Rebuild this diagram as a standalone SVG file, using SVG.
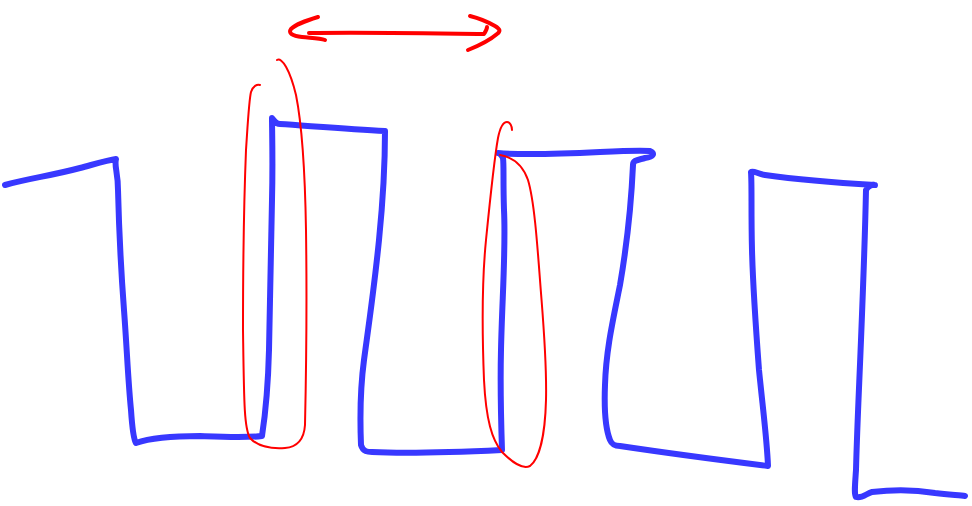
<svg xmlns="http://www.w3.org/2000/svg" width="972" height="506" viewBox="0 0 972 506">
<style>
.blue{fill:none;stroke:#3838ff;stroke-width:6;stroke-linecap:round;stroke-linejoin:round}
.red{fill:none;stroke:#ff0000;stroke-width:2;stroke-linecap:round;stroke-linejoin:round}
.arrow{fill:none;stroke:#ff0000;stroke-width:4;stroke-linecap:round;stroke-linejoin:round}
</style>
<rect width="972" height="506" fill="#ffffff"/>
<g id="signal">
<path class="blue" d="M5,185 C30,178 50,176 80,168 C95,164 108,160 116,159 C114,166 118,172 118,190 C119,230 121,270 124,310 C127,350 128,380 131,410 C132,425 134,440 136,443 C150,438 170,436 200,436 C225,437 245,438 262,436 C266,410 268,390 269,350 C270,300 271,250 272,200 C273,160 272,130 272,118 C276,122 275,124 280,124 C310,126 350,129 385,131 C385,160 383,200 379,240 C374,290 368,330 364,360 C360,390 360,420 361,445 C363,452 368,452 372,452 C410,454 460,452 502,450 C501,420 500,390 501,350 C502,300 506,250 504,210 C503,180 504,165 503,158 C501,154 499,153 498,153 C520,155 560,154 600,152 C620,151 640,150 650,151 C655,153 654,157 645,158 C638,160 633,160 633,165 C631,210 626,250 620,285 C613,320 606,350 605,385 C604,410 606,430 610,440 C612,445 615,446 620,446 C660,452 720,460 768,466 C767,440 763,410 759,370 C756,330 753,290 752,250 C751,210 752,185 751,172 C753,170 758,174 765,175 C800,180 840,183 875,185 C873,184 868,186 866,190 C865,240 863,290 861,340 C859,390 857,430 856,470 C855,485 854,494 856,497 C862,499 867,493 872,492 C890,490 910,489 935,493 C950,495 960,495 965,496"/>
</g>
<g id="highlight-left">
<path class="red" d="M277,60 C282,57 290,70 296,95 C302,125 305,170 306,230 C307,300 306,380 305,425 C304,440 297,447 285,448 C270,449 258,447 250,438 C244,428 244,400 243,330 C243,260 244,200 246,150 C248,120 249,100 251,92 C253,86 257,84 260,85"/>
</g>
<g id="highlight-right">
<path class="red" d="M500,155 C512,157 522,163 528,180 C534,200 537,240 540,280 C543,320 547,360 546,400 C545,440 538,460 530,466 C522,470 512,462 502,452 C492,440 486,420 484,380 C482,330 482,280 486,240 C490,200 494,160 498,138 C500,128 503,122 507,122 C510,122 512,126 512,130"/>
</g>
<g id="connectors">
<path class="arrow" d="M309,33 C360,32 420,33 484,34 C486,31 487,29 487,27"/>
<path class="arrow" d="M318,17 C305,21 296,24 291,29 C288,33 292,36 302,37 C312,38 320,38 325,40"/>
<path class="arrow" d="M470,16 C478,18 488,22 495,26 C500,29 501,31 497,34 C490,40 478,46 468,50"/>
</g>
</svg>
